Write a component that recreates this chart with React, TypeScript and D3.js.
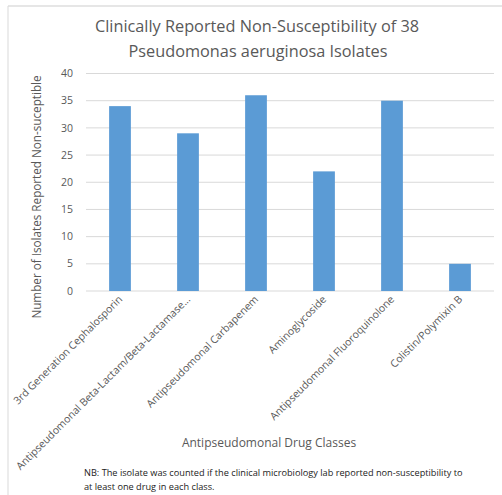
import React from "react";
import * as d3 from "d3";

const categories = [
  "3rd Generation Cephalosporin",
  "Antipseudomonal Beta-Lactam/Beta-Lactamase...",
  "Antipseudomonal Carbapenem",
  "Aminoglycoside",
  "Antipseudomonal Fluoroquinolone",
  "Colistin/Polymixin B",
];
const values = [34, 29, 36, 22, 35, 5];
const yTicks = [0, 5, 10, 15, 20, 25, 30, 35, 40];

const W = 502;
const H = 495;
const FONT = "'Open Sans', 'Noto Sans', sans-serif";

export default function App() {
  const x = d3.scaleBand<string>().domain(categories).range([86, 494]).paddingInner(0.68).paddingOuter(0.34);
  const y = d3.scaleLinear().domain([0, 40]).range([291, 73.5]);
  return (
    <svg width={W} height={H} style={{ position: "absolute", left: 0, top: 0 }}>
      <rect x={0} y={0} width={W} height={H} fill="#fff" />
      <line x1={8} y1={6} x2={W} y2={6} stroke="#e6e6e6" strokeWidth={2} />
      <line x1={8} y1={6} x2={8} y2={H} stroke="#d9d9d9" strokeWidth={1} />
      <g fontFamily={FONT} fill="#595959" textAnchor="middle" fontSize={16.3}>
        <text x={257} y={32}>Clinically Reported Non-Susceptibility of 38</text>
        <text x={258} y={57}>Pseudomonas aeruginosa Isolates</text>
      </g>
      {yTicks.map((t) => (
        <g key={t}>
          <line x1={86} x2={494} y1={y(t)} y2={y(t)} stroke="#d9d9d9" strokeWidth={1} />
          <text x={73} y={y(t)} dy="0.35em" textAnchor="end" fontFamily={FONT} fontSize={10.5} fill="#595959">
            {t}
          </text>
        </g>
      ))}
      {categories.map((c, i) => (
        <rect key={c} x={x(c)} y={y(values[i])} width={x.bandwidth()} height={y(0) - y(values[i])} fill="#5b9bd5" />
      ))}
      {categories.map((c) => {
        const cx = (x(c) as number) + x.bandwidth() / 2 + 3;
        return (
          <text
            key={c}
            transform={`translate(${cx},${300}) rotate(-45)`}
            textAnchor="end"
            fontFamily={FONT}
            fontSize={10.5}
            fill="#595959"
          >
            {c}
          </text>
        );
      })}
      <text
        transform={`translate(41,197) rotate(-90)`}
        textAnchor="middle"
        fontFamily={FONT}
        fontSize={11.7}
        fill="#595959"
      >
        Number of Isolates Reported Non-suceptible
      </text>
      <text x={269} y={447} textAnchor="middle" fontFamily={FONT} fontSize={12} fill="#595959">
        Antipseudomonal Drug Classes
      </text>
      <g fontFamily={FONT} fontSize={9.2} fill="#222">
        <text x={84} y={476}>NB: The isolate was counted if the clinical microbiology lab reported non-susceptibility to</text>
        <text x={84} y={490}>at least one drug in each class.</text>
      </g>
    </svg>
  );
}
